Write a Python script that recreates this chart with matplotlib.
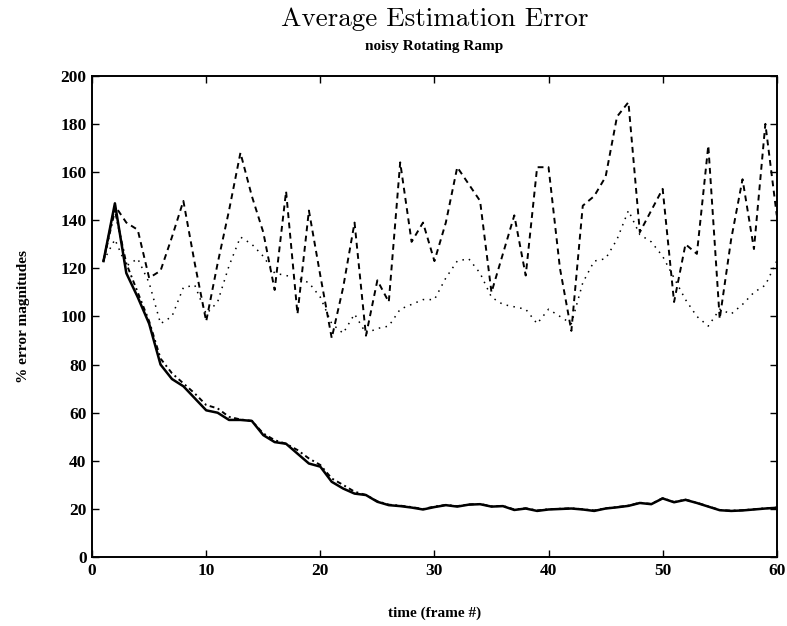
import matplotlib
matplotlib.use("Agg")
import matplotlib.pyplot as plt
import numpy as np

frames = list(range(1, 61))

solid = [123, 147, 118, 108, 97, 80, 74, 71, 66, 61,
         60, 57, 57, 56.6, 50.7, 47.8, 47.1, 43, 38.9, 37.6,
         31.3, 28.5, 26.4, 25.8, 23, 21.6, 21.2, 20.6, 19.8, 20.8,
         21.6, 21, 21.8, 22, 21, 21.2, 19.6, 20.2, 19.2, 19.8,
         20, 20.2, 19.8, 19.2, 20.2, 20.7, 21.3, 22.5, 22, 24.4,
         22.8, 23.8, 22.5, 21, 19.5, 19.2, 19.4, 19.8, 20.2, 20.5]

dashdot = [123, 144, 122, 110, 98, 82.5, 76.4, 72.2, 68, 63.2,
           61.8, 58.3, 57.2, 56.6, 51.4, 48.6, 47.1, 44.5, 41, 38.3,
           32.7, 30, 27.2, 25.8, 23.2, 21.8, 21.4, 20.8, 20, 21,
           21.7, 21.2, 21.9, 22.1, 21.1, 21.3, 19.8, 20.3, 19.4, 19.9,
           20.1, 20.3, 19.9, 19.4, 20.3, 20.8, 21.4, 22.6, 22.1, 24.5,
           22.9, 23.9, 22.6, 21.1, 19.6, 19.3, 19.5, 19.9, 20.3, 20.6]

dashed = [123, 146, 139, 136, 116, 119, 133, 148, 122, 98,
          122, 144, 168, 150, 135, 111, 152, 101, 144, 117,
          91, 112, 139, 92, 115, 106, 164, 131, 139, 123,
          139, 162, 155, 148, 110, 126, 142, 117, 162, 162,
          120, 94, 146, 150, 158, 183, 189, 135, 144, 153,
          106, 130, 126, 171, 99, 132, 157, 128, 180, 142]

dotted = [123, 132, 121, 124, 114, 97, 100, 112, 113, 101,
          106, 121, 133, 130, 125, 118, 117, 116, 114, 108,
          97, 93, 101, 93, 95, 96, 103, 105, 107, 107,
          116, 123, 124, 118, 108, 105, 104, 103, 97, 103,
          100, 97, 114, 123, 124, 132, 144, 134, 131, 125,
          116, 107, 100, 96, 103, 101, 105, 110, 113, 123]

x_ticks = [0, 10, 20, 30, 40, 50, 60]
y_ticks = [0, 20, 40, 60, 80, 100, 120, 140, 160, 180, 200]

serif = ["Liberation Serif", "DejaVu Serif"]

fig = plt.figure(figsize=(7.87, 6.26), dpi=100)
ax = fig.add_axes([0.117, 0.110, 0.870, 0.769])

ax.plot(frames, solid, color="black", lw=1.8, ls="-")
ax.plot(frames, dashdot, color="black", lw=1.4, ls=(0, (2.5, 1.8, 1, 1.8)))
ax.plot(frames, dashed, color="black", lw=1.4, ls=(0, (3, 2.3)))
ax.plot(frames, dotted, color="black", lw=1.1, ls=(0, (1, 3.5)))

ax.set_xlim(0, 60)
ax.set_ylim(0, 200)
ax.set_xticks(x_ticks)
ax.set_yticks(y_ticks)
ax.tick_params(direction="in", length=5, width=1, top=True, right=True,
               labelsize=12.5, pad=4)
for lab in ax.get_xticklabels() + ax.get_yticklabels():
    lab.set_fontfamily(serif)
    lab.set_fontweight("bold")
for sp in ax.spines.values():
    sp.set_linewidth(1.4)

ax.set_xlabel("time (frame #)", fontfamily=serif, fontweight="bold",
              fontsize=11, labelpad=20)
ax.set_ylabel("% error magnitudes", fontfamily=serif, fontweight="bold",
              fontsize=11, labelpad=22)

fig.text(0.552, 0.970, "Average Estimation Error", fontfamily="cmr10",
         fontsize=19.5, ha="center", va="center")
fig.text(0.552, 0.925, "noisy Rotating Ramp", fontfamily=serif,
         fontweight="bold", fontsize=11, ha="center", va="center")

fig.savefig("out.png", dpi=100)
